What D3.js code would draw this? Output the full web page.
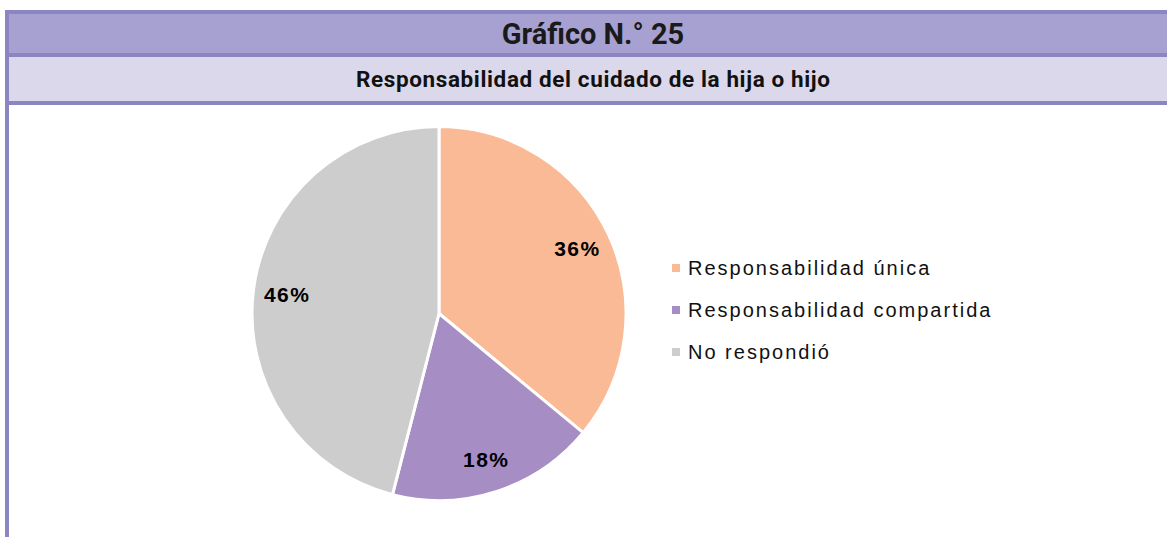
<!DOCTYPE html>
<html><head><meta charset="utf-8">
<script src="https://cdn.jsdelivr.net/npm/d3@7"></script>
<style>body{margin:0;background:#fff}svg{display:block}</style>
</head><body>
<svg id="c" width="1167" height="537"></svg>
<script>
const title = "Gráfico N.° 25";
const subtitle = "Responsabilidad del cuidado de la hija o hijo";
const categories = ["Responsabilidad única", "Responsabilidad compartida", "No respondió"];
const values = [36, 18, 46];
const colors = ["#F9BA95", "#A68EC5", "#CDCDCD"];

const svg = d3.select("#c");
const border = "#8B85C1";
// header bands
svg.append("rect").attr("x", 5).attr("y", 10).attr("width", 1162).attr("height", 4).attr("fill", border);
svg.append("rect").attr("x", 9).attr("y", 14).attr("width", 1158).attr("height", 39).attr("fill", "#A7A1D1");
svg.append("rect").attr("x", 5).attr("y", 53).attr("width", 1162).attr("height", 4).attr("fill", border);
svg.append("rect").attr("x", 9).attr("y", 57).attr("width", 1158).attr("height", 44).attr("fill", "#DBD8EB");
svg.append("rect").attr("x", 5).attr("y", 101).attr("width", 1162).attr("height", 4).attr("fill", border);
svg.append("rect").attr("x", 5).attr("y", 10).attr("width", 4).attr("height", 527).attr("fill", border);

svg.append("text").attr("x", 593).attr("y", 44).attr("text-anchor", "middle")
  .attr("font-family", "Roboto").attr("font-weight", 700).attr("font-size", 29).attr("fill", "#1a1a1a")
  .text(title);
svg.append("text").attr("x", 593).attr("y", 87).attr("text-anchor", "middle")
  .attr("font-family", "Roboto").attr("font-weight", 700).attr("font-size", 22.5).attr("fill", "#111")
  .attr("textLength", 474).attr("lengthAdjust", "spacing")
  .text(subtitle);

const cx = 439, cy = 313.5, r = 187;
const pie = d3.pie().sort(null).value(d => d)(values);
const arc = d3.arc().innerRadius(0).outerRadius(r);
const labelArc = d3.arc().innerRadius(153).outerRadius(153);
const g = svg.append("g").attr("transform", `translate(${cx},${cy})`);
g.selectAll("path").data(pie).join("path")
  .attr("d", arc).attr("fill", (d, i) => colors[i])
  .attr("stroke", "#fff").attr("stroke-width", 3);
g.selectAll("text").data(pie).join("text")
  .attr("transform", d => `translate(${labelArc.centroid(d)})`)
  .attr("text-anchor", "middle").attr("dominant-baseline", "central")
  .attr("font-family", "Liberation Sans, Arial, sans-serif").attr("font-weight", 700)
  .attr("font-size", 21).attr("letter-spacing", 1.5).attr("fill", "#000")
  .text(d => d.data + "%");

const leg = svg.append("g");
const ly = d3.scalePoint().domain(categories).range([268, 352]);
categories.forEach((c, i) => {
  leg.append("rect").attr("x", 672).attr("y", ly(c) - 4).attr("width", 8).attr("height", 8).attr("fill", colors[i]);
  leg.append("text").attr("x", 688).attr("y", ly(c)).attr("dominant-baseline", "central")
    .attr("font-family", "Liberation Sans, Arial, sans-serif").attr("font-size", 20)
    .attr("letter-spacing", 2).attr("fill", "#111")
    .text(c);
});
</script>
</body></html>
